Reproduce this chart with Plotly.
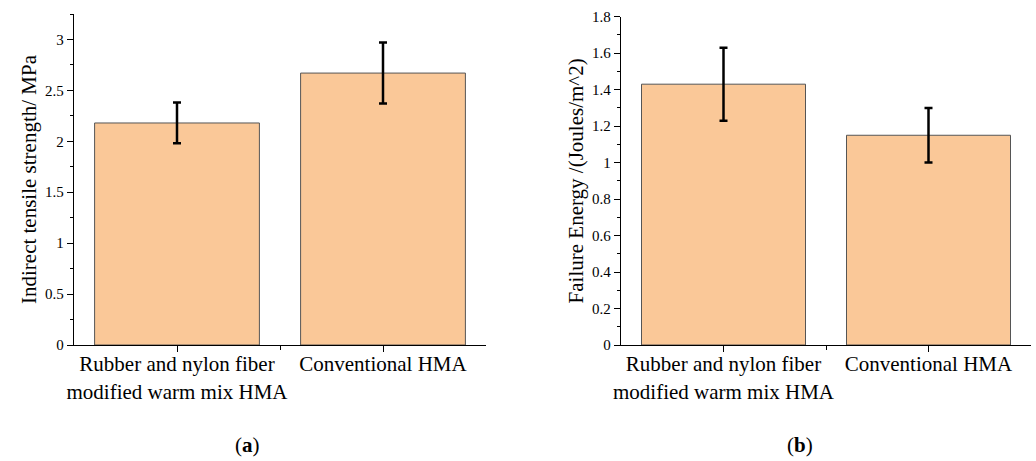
import plotly.graph_objects as go

categories = ["Rubber and nylon fiber<br>modified warm mix HMA", "Conventional HMA"]
x_pos = [0, 1]
its_values = [2.18, 2.67]
its_errors = [0.20, 0.30]
fe_values = [1.43, 1.15]
fe_errors = [0.20, 0.15]
its_ticks = [0, 0.5, 1, 1.5, 2, 2.5, 3]
its_ticktext = ["0", "0.5", "1", "1.5", "2", "2.5", "3"]
fe_ticks = [0, 0.2, 0.4, 0.6, 0.8, 1.0, 1.2, 1.4, 1.6, 1.8]
fe_ticktext = ["0", "0.2", "0.4", "0.6", "0.8", "1", "1.2", "1.4", "1.6", "1.8"]

BAR = "#FAC898"
FONT = "Liberation Serif, Times New Roman, serif"
W, H = 1036, 461

fig = go.Figure()
for vals, errs, xa, ya in [(its_values, its_errors, "x", "y"), (fe_values, fe_errors, "x2", "y2")]:
    fig.add_trace(go.Bar(
        x=x_pos, y=vals, width=0.8, xaxis=xa, yaxis=ya,
        marker=dict(color=BAR, line=dict(color="#555555", width=1)),
        error_y=dict(type="data", array=errs, visible=True, color="black",
                     thickness=2.5, width=4),
        showlegend=False,
    ))

def px_x(p):
    return p / W

def px_y(p):
    return (H - p) / H

xcommon = dict(
    range=[-0.5, 1.5], tickvals=x_pos, ticktext=categories,
    showline=True, linecolor="black", linewidth=1.3,
    ticks="outside", ticklen=6, tickcolor="black",
    tickfont=dict(family=FONT, size=21, color="black"),
    ticklabelstandoff=-6,
    showgrid=False, zeroline=False, fixedrange=True, automargin=False,
    minor=dict(tickvals=[0.5], ticks="outside", ticklen=4, tickcolor="black"),
)
ycommon = dict(
    showline=True, linecolor="black", linewidth=1.3,
    ticks="outside", ticklen=6, tickcolor="black",
    tickfont=dict(family=FONT, size=15, color="black"),
    showgrid=False, zeroline=False, automargin=False, fixedrange=True,
)

fig.update_layout(
    width=W, height=H,
    margin=dict(l=0, r=0, t=0, b=0),
    plot_bgcolor="white", paper_bgcolor="white",
    bargap=0.2,
    xaxis=dict(domain=[px_x(74), px_x(486)], anchor="y", **xcommon),
    xaxis2=dict(domain=[px_x(621), px_x(1031)], anchor="y2", **xcommon),
    yaxis=dict(domain=[px_y(345), px_y(14)], anchor="x", range=[0, 3.25],
               tickvals=its_ticks, ticktext=its_ticktext,
               minor=dict(dtick=0.25, ticks="outside", ticklen=3, tickcolor="black"),
               title=dict(text="Indirect tensile strength/ MPa",
                          font=dict(family=FONT, size=21, color="black"), standoff=2),
               **ycommon),
    yaxis2=dict(domain=[px_y(345), px_y(16.7)], anchor="x2", range=[0, 1.8],
                tickvals=fe_ticks, ticktext=fe_ticktext,
                minor=dict(dtick=0.1, ticks="outside", ticklen=3, tickcolor="black"),
                title=dict(text="Failure Energy /(Joules/m^2)",
                           font=dict(family=FONT, size=21, color="black"), standoff=2),
                **ycommon),
    annotations=[
        dict(text="(<b>a</b>)", x=px_x(247), y=px_y(445), xref="paper", yref="paper",
             xanchor="center", yanchor="middle",
             showarrow=False, font=dict(family=FONT, size=21, color="black")),
        dict(text="(<b>b</b>)", x=px_x(800), y=px_y(445), xref="paper", yref="paper",
             xanchor="center", yanchor="middle",
             showarrow=False, font=dict(family=FONT, size=21, color="black")),
    ],
)

fig.write_html("out.html", config={"displayModeBar": False},
               post_script="document.body.style.margin='0';document.body.style.overflow='hidden';")
